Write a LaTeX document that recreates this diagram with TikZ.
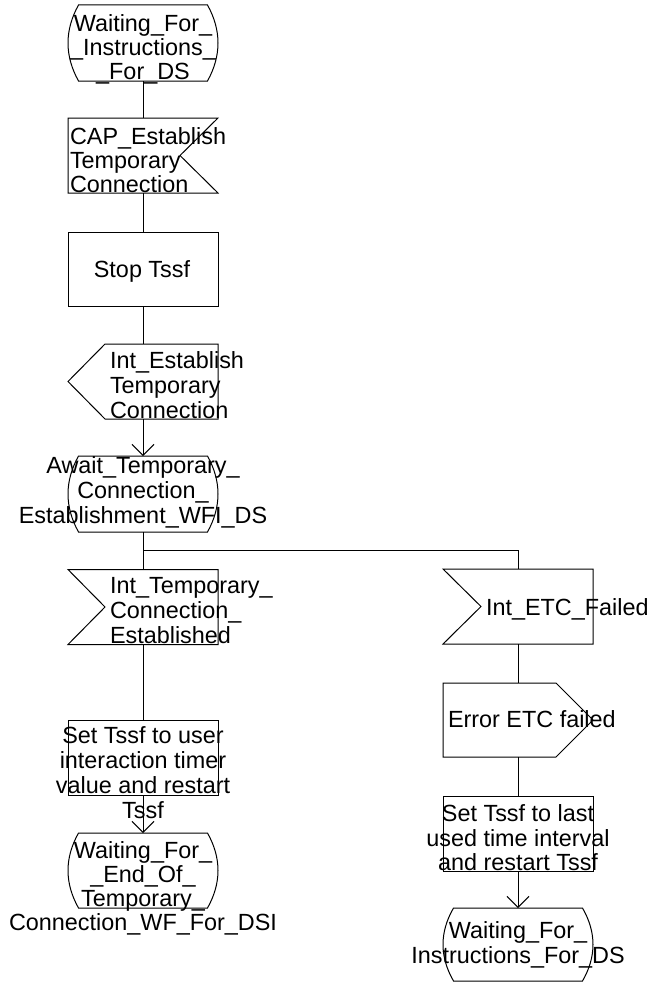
\documentclass[tikz,border=0pt]{standalone}
\usepackage{fontspec}
\setmainfont{Liberation Sans}
\usetikzlibrary{arrows.meta}
\newcommand\sdlstateshape[3]{% xc, ytop, ybot
  \draw[shp] ({#1-64.5},#2) -- ({#1+64.5},#2)
    .. controls ({#1+78.5},{#2+(#3-#2)/3}) and ({#1+78.5},{#3-(#3-#2)/3}) .. ({#1+64.5},#3)
    -- ({#1-64.5},#3)
    .. controls ({#1-78.5},{#3-(#3-#2)/3}) and ({#1-78.5},{#2+(#3-#2)/3}) .. ({#1-64.5},#2) -- cycle;}
\begin{document}
\begin{tikzpicture}[x=1pt,y=-1pt,
  shp/.style={draw=black, line width=1pt, line join=miter},
  con/.style={draw=black, line width=1pt},
  arr/.style={con, -{Straight Barb[length=11pt,width=22pt]}},
  geo/.style={draw=none, inner sep=0pt, outer sep=0pt, minimum width=150pt, rectangle},
  txt/.style={inner sep=0pt, outer sep=0pt, font=\fontsize{23.4}{24.5}\selectfont},
]
\useasboundingbox (0,0) rectangle (649,982);

% geometry nodes (invisible frames of the symbols)
\node[geo, minimum height=76pt] (s1)  at (143,43) {};
\node[geo, minimum height=75pt] (in1) at (143,155.5) {};
\node[geo, minimum height=74pt] (t1)  at (143,269) {};
\node[geo, minimum height=75pt] (o1)  at (143,381.5) {};
\node[geo, minimum height=76pt] (s2)  at (143,494) {};
\node[geo, minimum height=75pt] (in2) at (143,607) {};
\node[geo, minimum height=75pt] (t3)  at (143,757.5) {};
\node[geo, minimum height=75pt] (s4)  at (143,870.5) {};
\node[geo, minimum height=75pt] (in3) at (518,606.5) {};
\node[geo, minimum height=74pt] (o2)  at (518,720) {};
\node[geo, minimum height=75pt] (t2)  at (518,833.5) {};
\node[geo, minimum height=73pt] (s3)  at (518,944.5) {};

% symbol outlines
\sdlstateshape{143}{5}{81}
\draw[shp] (68,118) -- (218,118) -- (180,155.5) -- (218,193) -- (68,193) -- cycle;
\draw[shp] (68,232) rectangle (218,306);
\draw[shp] (105,344) -- (218,344) -- (218,419) -- (105,419) -- (68,381.5) -- cycle;
\sdlstateshape{143}{456}{532}
\draw[shp] (68,569.5) -- (218,569.5) -- (218,644.5) -- (68,644.5) -- (105,607) -- cycle;
\draw[shp] (68,720) rectangle (218,795);
\sdlstateshape{143}{833}{908}
\draw[shp] (443,569) -- (593,569) -- (593,644) -- (443,644) -- (481,606.5) -- cycle;
\draw[shp] (443,683) -- (556,683) -- (593,720) -- (556,757) -- (443,757) -- cycle;
\draw[shp] (443,796) rectangle (593,871);
\sdlstateshape{518}{908}{981}

% connectors
\coordinate (br)  at (143,550);
\coordinate (brr) at (518,550);
\draw[con] (s1.south) -- (in1.north);
\draw[con] (in1.south) -- (t1.north);
\draw[con] (t1.south) -- (o1.north);
\draw[arr] (o1.south) -- (s2.north);
\draw[con] (s2.south) -- (in2.north);
\draw[con] (br) -- (brr) -- (in3.north);
\draw[con] (in2.south) -- (t3.north);
\draw[arr] (t3.south) -- (s4.north);
\draw[con] (in3.south) -- (o2.north);
\draw[con] (o2.south) -- (t2.north);
\draw[arr] (t2.south) -- (s3.north);

% texts
\node[txt, anchor=base] (s1a) at (143,32) {Waiting\_For\_};
\node[txt, anchor=base] (s1b) at (143,56) {\_Instructions\_};
\node[txt, anchor=base] (s1c) at (143,80) {\_For\_DS};

\node[txt, anchor=base west] (in1a) at (70,144) {CAP\_Establish};
\node[txt, anchor=base west] (in1b) at (70,168) {Temporary};
\node[txt, anchor=base west] (in1c) at (70,192) {Connection};

\node[txt, anchor=base] (t1a) at (142,277) {Stop Tssf};

\node[txt, anchor=base west] (o1a) at (110,368) {Int\_Establish};
\node[txt, anchor=base west] (o1b) at (110,393) {Temporary};
\node[txt, anchor=base west] (o1c) at (110,418) {Connection};

\node[txt, anchor=base] (s2a) at (143,473) {Await\_Temporary\_};
\node[txt, anchor=base] (s2b) at (143,498) {Connection\_};
\node[txt, anchor=base] (s2c) at (143,523) {Establishment\_WFI\_DS};

\node[txt, anchor=base west] (in2a) at (110,593) {Int\_Temporary\_};
\node[txt, anchor=base west] (in2b) at (110,618) {Connection\_};
\node[txt, anchor=base west] (in2c) at (110,643) {Established};

\node[txt, anchor=base] (t3a) at (143,743) {Set Tssf to user};
\node[txt, anchor=base] (t3b) at (143,768) {interaction timer};
\node[txt, anchor=base] (t3c) at (143,793) {value and restart};
\node[txt, anchor=base] (t3d) at (143,818) {Tssf};

\node[txt, anchor=base] (s4a) at (143,858) {Waiting\_For\_};
\node[txt, anchor=base] (s4b) at (143,882) {\_End\_Of\_};
\node[txt, anchor=base] (s4c) at (143,906) {Temporary\_};
\node[txt, anchor=base] (s4d) at (143,930) {Connection\_WF\_For\_DSI};

\node[txt, anchor=base west] (in3a) at (486,615) {Int\_ETC\_Failed};

\node[txt, anchor=base west] (o2a) at (448,727) {Error ETC failed};

\node[txt, anchor=base] (t2a) at (518,821) {Set Tssf to last};
\node[txt, anchor=base] (t2b) at (518,846) {used time interval};
\node[txt, anchor=base] (t2c) at (518,870) {and restart Tssf};

\node[txt, anchor=base] (s3a) at (518,938) {Waiting\_For\_};
\node[txt, anchor=base] (s3b) at (518,963) {Instructions\_For\_DS};
\end{tikzpicture}
\end{document}
